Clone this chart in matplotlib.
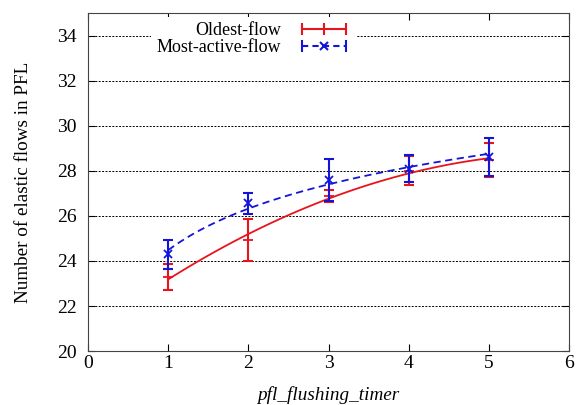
import numpy as np
import matplotlib
matplotlib.use('Agg')
import matplotlib.pyplot as plt
from matplotlib.lines import Line2D
from matplotlib.legend_handler import HandlerLine2D

plt.rcParams['font.family'] = ['Liberation Serif', 'DejaVu Serif']

timer = [1, 2, 3, 4, 5]
oldest = [23.3, 24.92, 26.88, 28.0, 28.48]
oldest_err = [0.58, 0.93, 0.25, 0.65, 0.74]
active = [24.3, 26.55, 27.58, 28.08, 28.6]
active_err = [0.65, 0.45, 0.93, 0.6, 0.85]

red = '#e8141c'
blue = '#1414d8'

fig = plt.figure(figsize=(5.79, 4.05), dpi=100)
ax = fig.add_axes([0.152, 0.133, 0.831, 0.835])

# smoothed trend curves fitted to each series
xs = np.linspace(1, 5, 100)
ax.plot(xs, np.polyval(np.polyfit(timer, oldest, 2), xs), color=red, lw=1.3, zorder=3)
cb = np.polyfit(np.log(timer), active, 1)
ax.plot(xs, np.polyval(cb, np.log(xs)), color=blue, lw=1.3, ls=(0, (4, 2.5)), zorder=4)

ax.errorbar(timer, oldest, yerr=oldest_err, fmt='none', ecolor=red, elinewidth=1.5, capsize=3.5, capthick=1.5, zorder=3)
ax.errorbar(timer, active, yerr=active_err, fmt='none', ecolor=blue, elinewidth=1.5, capsize=3.5, capthick=1.5, zorder=4)
ax.plot(timer, oldest, ls='none', marker='+', ms=7, mew=1.3, color=red, zorder=3)
ax.plot(timer, active, ls='none', marker='x', ms=6, mew=1.3, color=blue, zorder=4)

# gnuplot-style legend keys: |--+--|  and  |--x--|
r_key = Line2D([], [], color=red, lw=1.5, marker='|', ms=8, mew=1.5)
b_key = Line2D([], [], color=blue, lw=1.5, ls=(0, (3, 2)), marker='|', ms=8, mew=1.5)
b_mid = Line2D([], [], color=blue, ls='none', marker='x', ms=6, mew=1.5)
hmap = {r_key: HandlerLine2D(numpoints=3), b_key: HandlerLine2D(numpoints=2),
        b_mid: HandlerLine2D(numpoints=1)}
leg = ax.legend([r_key, (b_key, b_mid)], ['Oldest-flow', 'Most-active-flow'], loc='upper left',
                bbox_to_anchor=(0.123, 1.0), markerfirst=False, frameon=True, handler_map=hmap,
                fontsize=13, handlelength=3.0, labelspacing=0.0, borderpad=0.3,
                handletextpad=0.9, borderaxespad=0.2)
leg.get_frame().set_edgecolor('none')
leg.get_frame().set_facecolor('white')
leg.get_frame().set_alpha(1)
leg.set_zorder(5)

ax.set_xlim(0, 6)
ax.set_ylim(20, 35)
ax.set_xticks([0, 1, 2, 3, 4, 5, 6])
ax.set_yticks([20, 22, 24, 26, 28, 30, 32, 34])
ax.yaxis.grid(True, color='black', ls=(0, (2, 1.5)), lw=0.7)
ax.set_axisbelow(True)
ax.tick_params(direction='in', top=True, right=True, length=5, labelsize=14)
ax.tick_params(axis='x', pad=3)
ax.tick_params(axis='y', pad=8)
for s in ax.spines.values():
    s.set_color('#444444')

ax.set_xlabel('pfl_flushing_timer', fontsize=13.8, style='italic', labelpad=10)
ax.set_ylabel('Number of elastic flows in PFL', fontsize=13.8, labelpad=18)

fig.savefig('out.png', dpi=100)
